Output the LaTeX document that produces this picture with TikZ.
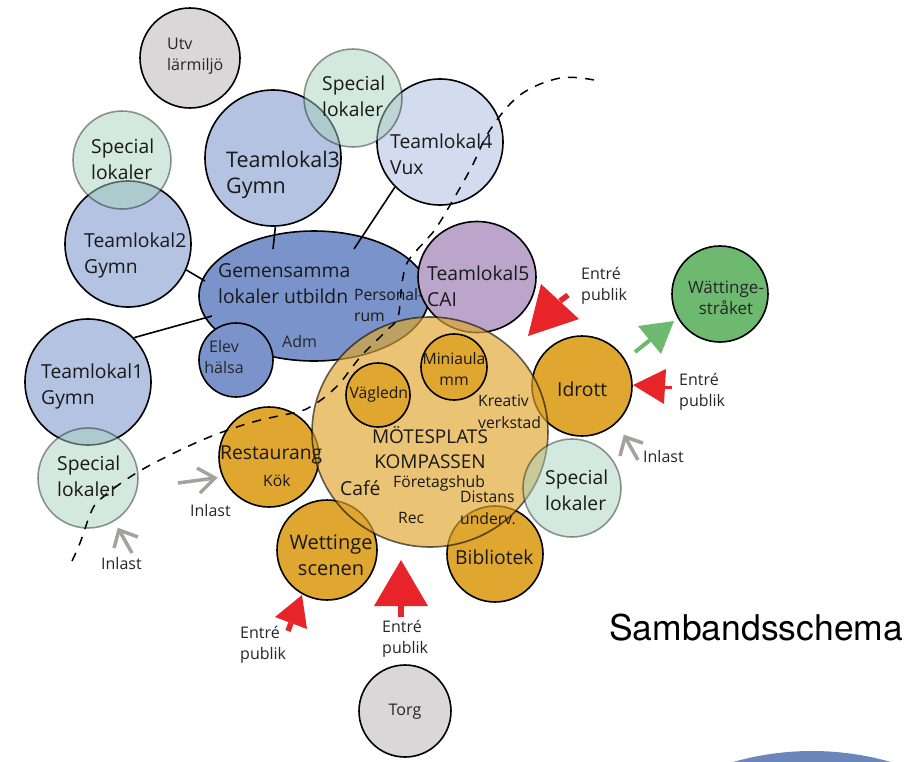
\documentclass[tikz,border=0pt]{standalone}
\usepackage{fontspec}
\setmainfont{Open Sans}
\newfontfamily\heros{TeX Gyre Heros}
\usetikzlibrary{shapes.geometric}
\definecolor{tlblue}{HTML}{B5C3E3}
\definecolor{tlpale}{HTML}{D3DCEF}
\definecolor{gemblue}{HTML}{7A94CB}
\definecolor{purp}{HTML}{BBA5CB}
\definecolor{oran}{HTML}{DFA630}
\definecolor{spec}{HTML}{A7D1BD}
\definecolor{utv}{HTML}{D9D7D8}
\definecolor{gron}{HTML}{6DB96F}
\definecolor{redd}{HTML}{E8242B}
\definecolor{graya}{HTML}{A3A39B}
\definecolor{bott}{HTML}{6B86BA}
\tikzset{
 x=1pt,y=-1pt,
 blob/.style={circle,draw=black,line width=1.6pt,inner sep=0pt,minimum size=#1},
 specblob/.style={blob=#1,fill=spec,fill opacity=.5,draw=black,draw opacity=.4},
 big/.style={font=\fontsize{19.3}{26}\selectfont,align=left,anchor=west,text=black!90,inner sep=0pt},
 mid/.style={font=\fontsize{15.7}{21.5}\selectfont,align=left,anchor=west,text=black!90,inner sep=0pt},
 sml/.style={font=\fontsize{16}{21.5}\selectfont,align=left,anchor=west,text=black!85,inner sep=0pt},
 link/.style={line width=1.6pt},
 redhead/.style={fill=redd,draw=none},
 redstem/.style={draw=redd,line width=5.5pt},
 grayarrow/.style={draw=graya,line width=3.5pt,miter limit=4},
}
\begin{document}
\begin{tikzpicture}
\useasboundingbox (0,0) rectangle (913,761);
% bottom arc
\begin{scope}
\clip (0,0) rectangle (913,761);
\fill[bott] (812,1037) circle (286);
\end{scope}
% circles
\node[blob=100,fill=utv] (utv) at (190,58) {};
\node[blob=136,fill=tlblue] (tl3) at (273,158) {};
\node[blob=126,fill=tlpale] (tl4) at (440,142) {};
\node[specblob=98] (spA) at (353,98) {};
\node[blob=126,fill=tlblue] (tl2) at (128,244) {};
\node[specblob=98] (spB) at (122,160) {};
\node[blob=126,fill=tlblue] (tl1) at (88,382) {};
\node[specblob=100] (spC) at (88,478) {};
\node[ellipse,draw=black,line width=1.6pt,fill=gemblue,inner sep=0pt,minimum width=230,minimum height=130] (gem) at (314,296) {};
\node[blob=74,fill=gemblue] (elev) at (236,360) {};
% links, their ends lie on top of the ellipse
\coordinate (g3) at (273,249);
\coordinate (g4) at (354,249);
\coordinate (g2) at (205,281);
\coordinate (g1) at (212,316);
\draw[link] (tl3.272)--(g3);
\draw[link] (tl4.225)--(g4);
\draw[link] (tl2.-24)--(g2);
\draw[link] (tl1.44)--(g1);
\node[ellipse,draw=black,line width=1.6pt,fill=purp,inner sep=0pt,minimum width=118,minimum height=111] (tl5) at (477,277) {};
\node[blob=100,fill=oran] (idr) at (582,386) {};
\node[blob=100,fill=oran] (res) at (269,457) {};
\node[blob=100,fill=oran] (wet) at (327,550) {};
\node[blob=96,fill=oran] (bib) at (495,554) {};
\node[ellipse,draw=black,draw opacity=.6,line width=1.6pt,fill=oran,fill opacity=.67,inner sep=0pt,minimum width=236,minimum height=230] (mot) at (430,432) {};
\node[blob=66,fill=oran] (mini) at (454,367) {};
\node[blob=64,fill=oran] (vag) at (378,395) {};
\node[specblob=98] (spD) at (572,488) {};
\node[blob=96,fill=gron] (wat) at (720,294) {};
\node[blob=92,fill=utv] (torg) at (405,711) {};
% dashed boundary
\draw[line width=1.5pt,dash pattern=on 9pt off 8.15pt] plot[smooth,tension=.6] coordinates {(72,561)(80,543)(92,510)(103,497)(130,477)(160,460)(207,438)(253,422)(297,412)(310,407)(325,397)(340,383)(350,370)(362,355)(375,342)(387,330)(398,317)(402,283)(407,263)(417,250)(428,238)(440,222)(470,170)(490,130)(520,95)(560,78)(594,80)};
% red arrows
\fill[redhead] (541,284)--(579,319)--(528,336)--cycle;
\draw[redstem] (560,301)--(568,295);
\fill[redhead] (633,385)--(666,369)--(664,404)--cycle;
\draw[draw=redd,line width=3pt] (660,387)--(672,387);
\fill[redhead] (401,560)--(428,606)--(374,606)--cycle;
\draw[redstem] (401,600)--(401,617);
\fill[redhead] (302,595)--(307,629)--(275,617)--cycle;
\draw[redstem] (291,623)--(288,631);
% green arrow
\draw[draw=gron,line width=4pt] (635,352)--(655,336);
\fill[gron] (674,321)--(661,354)--(638,326)--cycle;
% gray arrows
\draw[grayarrow] (638,460)--(625,437);
\draw[grayarrow] (620,456)--(625,437)--(643,443);
\draw[grayarrow] (178,483)--(215,478);
\draw[grayarrow] (197,468)--(215,478)--(200,493);
\draw[grayarrow] (132,553)--(119,530);
\draw[grayarrow] (114,548)--(119,530)--(138,537);
% labels
\node[sml] (lutv) at (167,56) {Utv\\lärmiljö};
\node[big] (lspA) at (322,96) {Special\\lokaler};
\node[big] (ltl4) at (390,154) {Teamlokal4\\Vux};
\node[big,font=\fontsize{21.5}{26}\selectfont] (ltl3) at (226,175) {Teamlokal3\\Gymn};
\node[big] (lspB) at (91,159) {Special\\lokaler};
\node[big] (ltl2) at (84,255) {Teamlokal2\\Gymn};
\node[big] (lgem) at (218,284) {Gemensamma\\lokaler utbildn};
\node[mid] (lper) at (354,305) {Personal-\\rum};
\node[sml] (ladm) at (282,341) {Adm};
\node[sml,align=center,anchor=center] (lelev) at (224,357) {Elev\\hälsa};
\node[big] (ltl1) at (41,386) {Teamlokal1\\Gymn};
\node[big] (lspC) at (57,476) {Special\\lokaler};
\node[big] (ltl5) at (427,286) {Teamlokal5\\CAI};
\node[mid,align=center,anchor=center] (lmini) at (454,369) {Miniaula\\mm};
\node[mid,anchor=center] (lvag) at (381,394) {Vägledn.};
\node[mid] (lkre) at (478,412) {Kreativ\\verkstad};
\node[big,font=\fontsize{19}{25}\selectfont,align=center,anchor=center] (lmot) at (430,448) {MÖTESPLATS\\KOMPASSEN};
\node[big] (lcaf) at (340,488) {Café};
\node[mid] (lfor) at (393,483) {Företagshub};
\node[mid] (ldis) at (460,508) {Distans\\underv.};
\node[mid] (lrec) at (398,518) {Rec};
\node[big] (lidr) at (557,389) {Idrott};
\node[big] (lspD) at (545,490) {Special\\lokaler};
\node[big] (lbib) at (455,557) {Bibliotek};
\node[big,align=center,anchor=center,font=\fontsize{20}{26}\selectfont] (lwet) at (331,555) {Wettinge\\scenen};
\node[big] (lres) at (220,455) {Restaurang};
\node[mid] (lkok) at (263,481) {Kök};
\node[sml,align=center,anchor=center,font=\fontsize{17}{21}\selectfont] (lwat) at (726,298) {Wättinge-\\stråket};
\node[sml,anchor=center] (ltorg) at (405,712) {Torg};
\node[sml] (e1) at (581,286) {Entré\\publik};
\node[sml] (e2) at (679,392) {Entré\\publik};
\node[sml] (e3) at (382,639) {Entré\\publik};
\node[sml] (e4) at (240,645) {Entré\\publik};
\node[sml] (i1) at (643,456) {Inlast};
\node[sml] (i2) at (190,510) {Inlast};
\node[sml] (i3) at (101,563) {Inlast};
\node[anchor=west,inner sep=0pt,font=\heros\fontsize{35.5}{40}\selectfont] (title) at (609,628) {Sambandsschema};
\end{tikzpicture}
\end{document}
